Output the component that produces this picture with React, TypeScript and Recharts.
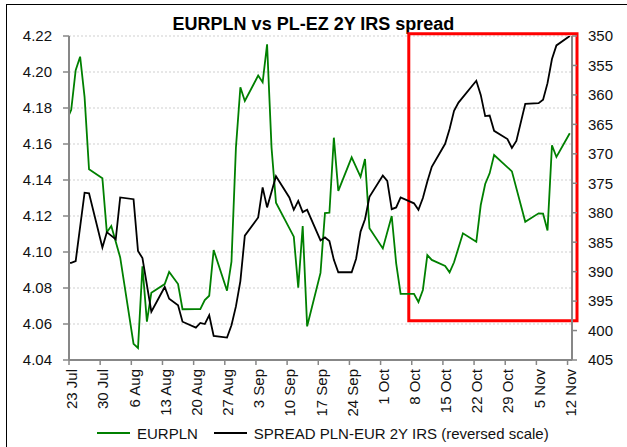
import { LineChart, Line, XAxis, YAxis, CartesianGrid, Legend, ReferenceArea } from 'recharts'

// dates are 2018, business days (MM-DD); only the points where the line bends
const EUR_DATES = [
  '07-20', '07-23', '07-24', '07-25', '07-26', '07-27', '07-30', '07-31', '08-01', '08-03',
  '08-06', '08-07', '08-08', '08-09', '08-10', '08-13', '08-14', '08-16', '08-17', '08-20',
  '08-21', '08-22', '08-23', '08-24', '08-27', '08-28', '08-29', '08-30', '08-31', '09-03',
  '09-04', '09-05', '09-06', '09-07', '09-11', '09-12', '09-13', '09-14', '09-17', '09-18',
  '09-19', '09-20', '09-21', '09-24', '09-26', '09-27', '09-28', '10-01', '10-03', '10-04',
  '10-05', '10-08', '10-09', '10-10', '10-11', '10-12', '10-15', '10-16', '10-17', '10-19',
  '10-22', '10-23', '10-24', '10-25', '10-26', '10-30', '11-02', '11-05', '11-06', '11-07',
  '11-08', '11-09', '11-12',
]
const EUR_VALUES = [
  4.162, 4.179, 4.201, 4.2085, 4.186, 4.146, 4.141, 4.111, 4.1144, 4.097,
  4.049, 4.0467, 4.092, 4.0613, 4.0774, 4.0822, 4.0889, 4.0822, 4.0682, 4.0683,
  4.0683, 4.0733, 4.0757, 4.1011, 4.0785, 4.0946, 4.158, 4.1915, 4.1839, 4.198,
  4.1943, 4.2154, 4.158, 4.1274, 4.1085, 4.0802, 4.1144, 4.0587, 4.0884, 4.1216,
  4.1218, 4.1635, 4.134, 4.1526, 4.1418, 4.1517, 4.1132, 4.102, 4.12, 4.0937,
  4.0767, 4.0767, 4.0722, 4.0789, 4.0983, 4.0956, 4.0922, 4.0887, 4.0943, 4.1104,
  4.1057, 4.1261, 4.1378, 4.1437, 4.1539, 4.1448, 4.1168, 4.1215, 4.1213, 4.112,
  4.1593, 4.1528, 4.166,
]

const SPREAD_DATES = [
  '07-20', '07-23', '07-24', '07-26', '07-27', '07-30', '07-31', '08-02', '08-03', '08-06',
  '08-07', '08-08', '08-10', '08-13', '08-14', '08-16', '08-17', '08-20', '08-21', '08-22',
  '08-23', '08-24', '08-27', '08-28', '08-29', '08-30', '08-31', '09-03', '09-04', '09-05',
  '09-07', '09-10', '09-11', '09-12', '09-13', '09-14', '09-17', '09-18', '09-19', '09-20',
  '09-21', '09-24', '09-25', '09-26', '09-27', '09-28', '10-01', '10-02', '10-03', '10-04',
  '10-05', '10-08', '10-09', '10-10', '10-11', '10-12', '10-15', '10-16', '10-17', '10-18',
  '10-22', '10-23', '10-24', '10-25', '10-26', '10-29', '10-30', '10-31', '11-02', '11-05',
  '11-06', '11-07', '11-08', '11-09', '11-12',
]
const SPREAD_VALUES = [
  388.5, 388.5, 388.2, 376.6, 376.7, 385.9, 383.3, 384.5, 377.4, 377.7,
  386.5, 387.7, 396.8, 392.6, 394.6, 395.7, 398.5, 399.5, 398.7, 398.9,
  397.4, 400.9, 401.2, 399.1, 395.9, 391.6, 383.9, 380.8, 375.7, 379.1,
  373.8, 377.4, 379.5, 378.0, 379.9, 379.5, 384.7, 384.2, 384.8, 388.0,
  390.1, 390.1, 387.8, 383.2, 381.1, 377.3, 373.7, 374.6, 379.4, 379.1,
  377.4, 378.4, 379.5, 377.5, 374.7, 372.2, 368.3, 365.8, 362.7, 361.3,
  357.6, 360.0, 363.6, 363.5, 366.1, 367.5, 369.0, 367.8, 361.5, 361.4,
  360.8, 358.0, 353.9, 351.6, 350.0,
]

const X_TICKS = [
  '07-23', '07-30', '08-06', '08-13', '08-20', '08-27', '09-03', '09-10',
  '09-17', '09-24', '10-01', '10-08', '10-15', '10-22', '10-29', '11-05', '11-12',
]
const LEFT_TICKS = [4.04, 4.06, 4.08, 4.1, 4.12, 4.14, 4.16, 4.18, 4.2, 4.22]
const RIGHT_TICKS = [350, 355, 360, 365, 370, 375, 380, 385, 390, 395, 400, 405]
const MONTHS = ['Jan', 'Feb', 'Mar', 'Apr', 'May', 'Jun', 'Jul', 'Aug', 'Sep', 'Oct', 'Nov', 'Dec']

const FONT = '"Liberation Sans", Arial, sans-serif'
const AXIS_GREY = '#878787'

const toTime = (md: string, hour = 12) =>
  Date.UTC(2018, Number(md.slice(0, 2)) - 1, Number(md.slice(3)), hour)

const eurData = EUR_DATES.map((d, i) => ({ t: toTime(d), v: EUR_VALUES[i] }))
const spreadData = SPREAD_DATES.map((d, i) => ({ t: toTime(d), v: SPREAD_VALUES[i] }))

const fmtDate = (t: number) => {
  const d = new Date(t)
  return `${d.getUTCDate()} ${MONTHS[d.getUTCMonth()]}`
}

function DateTick({ x, y, payload }: any) {
  return (
    <text
      transform={`translate(${x + 3},${y + 2}) rotate(-90)`}
      textAnchor="end"
      dy="0.35em"
      fontSize={15}
      fontFamily={FONT}
      fill="#111"
    >
      {fmtDate(payload.value)}
    </text>
  )
}

function LegendBox({ payload }: any) {
  return (
    <div style={{ display: 'flex', alignItems: 'center', height: 20, paddingLeft: 97, fontFamily: FONT, fontSize: 15, color: '#111' }}>
      {(payload || []).map((p: any) => (
        <div key={p.value} style={{ display: 'flex', alignItems: 'center', marginRight: 16 }}>
          <span style={{ display: 'inline-block', width: 33, height: 2, background: p.color, marginRight: 7 }} />
          <span>{p.value}</span>
        </div>
      ))}
    </div>
  )
}

export default function App() {
  return (
    <div style={{ position: 'absolute', left: 0, top: 0, width: 627, height: 447, overflow: 'hidden', background: '#fff' }}>
      <div style={{ position: 'absolute', left: 6, top: 4, width: 700, height: 500, border: '1px solid #000' }} />
      <div style={{ position: 'absolute', left: 0, top: 15, width: 627, textAlign: 'center', fontFamily: FONT, fontWeight: 'bold', fontSize: 18, lineHeight: '18px', color: '#000' }}>
        EURPLN vs PL-EZ 2Y IRS spread
      </div>
      <LineChart width={627} height={447} margin={{ top: 36, right: 0, left: 0, bottom: 4 }}>
        <CartesianGrid yAxisId="left" vertical={false} stroke="#cfcfcf" strokeDasharray="2 2" />
        <XAxis
          dataKey="t"
          type="number"
          domain={[toTime('07-23', 0), toTime('11-13', 0)]}
          ticks={X_TICKS.map((d) => toTime(d, 0))}
          allowDataOverflow
          height={63}
          tick={<DateTick />}
          tickSize={5}
          axisLine={{ stroke: AXIS_GREY, strokeWidth: 2 }}
          tickLine={{ stroke: AXIS_GREY, strokeWidth: 1.5 }}
          interval={0}
        />
        <YAxis
          yAxisId="left"
          orientation="left"
          width={69}
          domain={[4.04, 4.22]}
          ticks={LEFT_TICKS}
          allowDataOverflow
          tickFormatter={(v: number) => v.toFixed(2)}
          tick={{ fontSize: 15, fill: '#111', fontFamily: FONT }}
          tickSize={6}
          tickMargin={11}
          axisLine={{ stroke: AXIS_GREY, strokeWidth: 2 }}
          tickLine={{ stroke: AXIS_GREY, strokeWidth: 1.5 }}
          interval={0}
        />
        <YAxis
          yAxisId="right"
          orientation="right"
          width={55}
          reversed
          domain={[350, 405]}
          ticks={RIGHT_TICKS}
          allowDataOverflow
          tick={{ fontSize: 15, fill: '#111', fontFamily: FONT }}
          tickSize={5}
          tickMargin={11}
          axisLine={{ stroke: AXIS_GREY, strokeWidth: 2 }}
          tickLine={{ stroke: AXIS_GREY, strokeWidth: 1.5 }}
          interval={0}
        />
        <Legend verticalAlign="bottom" align="left" content={<LegendBox />} />
        <Line
          yAxisId="left"
          data={eurData}
          dataKey="v"
          name="EURPLN"
          type="linear"
          stroke="#008000"
          strokeWidth={1.8}
          dot={false}
          activeDot={false}
          isAnimationActive={false}
        />
        <Line
          yAxisId="right"
          data={spreadData}
          dataKey="v"
          name="SPREAD PLN-EUR 2Y IRS (reversed scale)"
          type="linear"
          stroke="#000"
          strokeWidth={1.8}
          dot={false}
          activeDot={false}
          isAnimationActive={false}
        />
        <ReferenceArea
          yAxisId="left"
          x1={toTime('10-07', 8)}
          x2={toTime('11-14', 3)}
          y1={4.0618}
          y2={4.2213}
          ifOverflow="visible"
          stroke="#ff0000"
          strokeWidth={3}
          fill="none"
          fillOpacity={0}
        />
      </LineChart>
    </div>
  )
}
